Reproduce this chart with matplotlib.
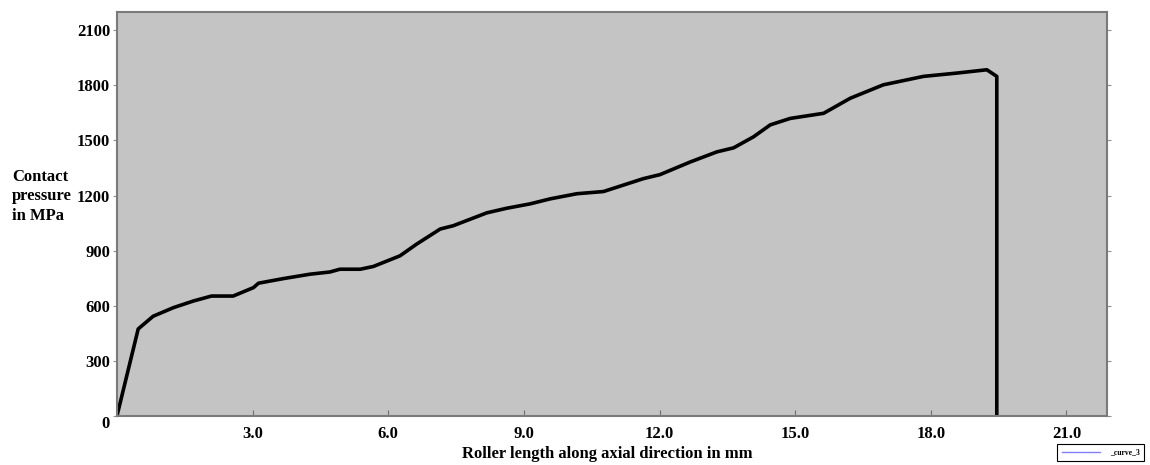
import matplotlib.pyplot as plt

# valores (mm, MPa)
roller_x = [0.0, 0.47, 0.80, 1.25, 1.69, 2.09, 2.57, 3.02, 3.13, 3.68, 4.27, 4.71,
            4.93, 5.38, 5.67, 6.26, 6.63, 7.15, 7.44, 8.18, 8.62, 9.14, 9.58, 10.17,
            10.76, 11.64, 12.01, 12.68, 13.27, 13.64, 14.08, 14.45, 14.89, 15.63,
            16.22, 16.95, 17.84, 18.58, 19.24, 19.46, 19.46]
pressure = [0, 474, 543, 590, 626, 653, 653, 699, 723, 748, 772, 784,
            799, 799, 814, 872, 936, 1018, 1036, 1106, 1131, 1155, 1182, 1210,
            1222, 1292, 1314, 1383, 1438, 1460, 1520, 1585, 1620, 1648,
            1730, 1803, 1849, 1867, 1885, 1849, 0]

x_ticks = [0, 3, 6, 9, 12, 15, 18, 21]
x_labels = ['', '3.0', '6.0', '9.0', '12.0', '15.0', '18.0', '21.0']
y_ticks = [0, 300, 600, 900, 1200, 1500, 1800, 2100]
y_labels = ['0', '300', '600', '900', '1200', '1500', '1800', '2100']
legend_label = '_curve_3'

plt.rcParams['font.family'] = 'Liberation Serif'
plt.rcParams['font.weight'] = 'bold'

fig = plt.figure(figsize=(11.5, 4.65), dpi=100)
ax = fig.add_axes([0.1017, 0.1054, 0.861, 0.869])
ax.set_facecolor('#c4c4c4')

line, = ax.plot(roller_x, pressure, color='black', linewidth=2.6,
                solid_joinstyle='round')

ax.set_xlim(0, 21.9)
ax.set_ylim(0, 2200)

ax.set_xticks(x_ticks)
ax.set_xticklabels(x_labels, fontsize=12, fontweight='bold')
ax.set_yticks(y_ticks)
ax.set_yticklabels(y_labels, fontsize=12, fontweight='bold')
ax.get_yticklabels()[0].set_va('top')

ax.tick_params(axis='x', direction='in', length=4, color='#707070', pad=7)
ax.tick_params(axis='y', direction='out', length=3, color='#909090', pad=2,
               right=True)

for s in ax.spines.values():
    s.set_color('#7a7a7a')
    s.set_linewidth(1.5)

ax.set_xlabel('Roller length along axial direction in mm', fontsize=12,
              fontweight='bold')
ax.xaxis.set_label_coords(0.495, -0.075)
fig.text(0.0105, 0.637, 'Contact\npressure\nin MPa', fontsize=12,
         fontweight='bold', ha='left', va='top', linespacing=1.3)

# leyenda abajo a la derecha
handle, = ax.plot([], [], color='#8080ff', linewidth=1)
leg = fig.legend([handle], [legend_label], loc='lower right',
                 bbox_to_anchor=(0.9985, 0.0), fontsize=5.5, fancybox=False,
                 handlelength=5, borderpad=0.6, handletextpad=1.3, framealpha=1)
leg.get_frame().set_edgecolor('black')
leg.get_frame().set_linewidth(0.8)

fig.savefig('out.png', dpi=100)
